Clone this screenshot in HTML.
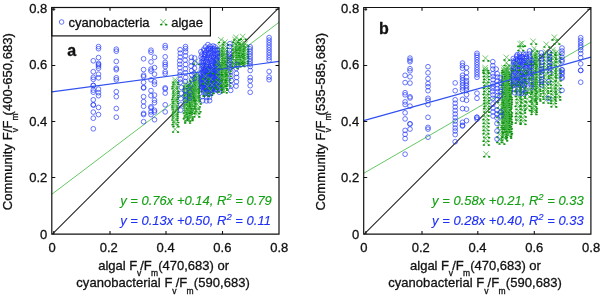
<!DOCTYPE html>
<html><head><meta charset="utf-8"><style>
html,body{margin:0;padding:0;background:#fff;width:602px;height:296px;overflow:hidden}
svg{display:block;will-change:transform}
text{stroke-width:0.3px}
.eq{}

</style></head><body>
<svg width="602" height="296" viewBox="0 0 602 296">
<defs><g id="xm"><path d="M-2.9 -2.9L3.1 2.5M2.5 -2.9L-2.3 2.5" stroke="#4cb84c" stroke-width="0.75" fill="none"/><ellipse cx="-1.9" cy="2.5" rx="1.3" ry="0.85" fill="#0b8f0b" stroke="none"/><ellipse cx="3.0" cy="2.6" rx="1.3" ry="0.85" fill="#0b8f0b" stroke="none"/></g></defs>
<rect width="602" height="296" fill="#fff"/>
<g style="font-family:'Liberation Sans',sans-serif" font-size="13" fill="#111" stroke="#111" stroke-width="0"><g class="t">
<line x1="52.3" y1="234.2" x2="279" y2="7.7" stroke="#222" stroke-width="1.05"/><line x1="51.8" y1="194.3" x2="279" y2="22.3" stroke="#66c866" stroke-width="1"/><g><use href="#xm" x="175.2" y="79.9"/><use href="#xm" x="175.3" y="81.9"/><use href="#xm" x="174.5" y="84.2"/><use href="#xm" x="174.4" y="86.2"/><use href="#xm" x="175.3" y="88.6"/><use href="#xm" x="175.2" y="90.6"/><use href="#xm" x="175.3" y="92.9"/><use href="#xm" x="174.9" y="94.8"/><use href="#xm" x="174.3" y="96.9"/><use href="#xm" x="174.7" y="99.1"/><use href="#xm" x="175.0" y="100.9"/><use href="#xm" x="174.3" y="103.4"/><use href="#xm" x="174.4" y="105.2"/><use href="#xm" x="174.6" y="107.2"/><use href="#xm" x="175.1" y="109.7"/><use href="#xm" x="174.5" y="111.6"/><use href="#xm" x="174.6" y="113.6"/><use href="#xm" x="174.7" y="115.5"/><use href="#xm" x="174.4" y="117.6"/><use href="#xm" x="175.3" y="119.9"/><use href="#xm" x="174.5" y="122.2"/><use href="#xm" x="175.4" y="124.1"/><use href="#xm" x="175.0" y="129.5"/><use href="#xm" x="185.9" y="83.8"/><use href="#xm" x="185.8" y="85.7"/><use href="#xm" x="185.8" y="87.4"/><use href="#xm" x="186.1" y="89.5"/><use href="#xm" x="187.1" y="91.4"/><use href="#xm" x="186.4" y="92.9"/><use href="#xm" x="186.5" y="94.7"/><use href="#xm" x="186.2" y="96.2"/><use href="#xm" x="186.1" y="98.8"/><use href="#xm" x="185.9" y="100.2"/><use href="#xm" x="186.7" y="102.3"/><use href="#xm" x="186.0" y="103.6"/><use href="#xm" x="186.1" y="105.5"/><use href="#xm" x="186.4" y="107.8"/><use href="#xm" x="187.1" y="109.5"/><use href="#xm" x="185.7" y="110.6"/><use href="#xm" x="186.8" y="113.1"/><use href="#xm" x="186.5" y="114.7"/><use href="#xm" x="185.7" y="116.3"/><use href="#xm" x="187.2" y="118.5"/><use href="#xm" x="187.1" y="120.4"/><use href="#xm" x="189.1" y="83.7"/><use href="#xm" x="188.9" y="86.0"/><use href="#xm" x="189.8" y="88.4"/><use href="#xm" x="189.9" y="90.1"/><use href="#xm" x="189.9" y="92.0"/><use href="#xm" x="189.6" y="93.6"/><use href="#xm" x="190.0" y="95.8"/><use href="#xm" x="190.2" y="98.1"/><use href="#xm" x="189.2" y="99.7"/><use href="#xm" x="189.1" y="102.1"/><use href="#xm" x="189.8" y="103.7"/><use href="#xm" x="188.8" y="106.0"/><use href="#xm" x="189.6" y="107.9"/><use href="#xm" x="189.1" y="110.1"/><use href="#xm" x="188.7" y="111.8"/><use href="#xm" x="189.4" y="114.4"/><use href="#xm" x="189.7" y="116.3"/><use href="#xm" x="189.5" y="117.8"/><use href="#xm" x="192.1" y="78.4"/><use href="#xm" x="192.8" y="80.0"/><use href="#xm" x="191.7" y="82.4"/><use href="#xm" x="192.8" y="84.5"/><use href="#xm" x="192.1" y="86.9"/><use href="#xm" x="193.2" y="88.8"/><use href="#xm" x="191.8" y="91.1"/><use href="#xm" x="192.4" y="93.5"/><use href="#xm" x="192.0" y="95.8"/><use href="#xm" x="192.9" y="97.8"/><use href="#xm" x="192.0" y="100.4"/><use href="#xm" x="192.2" y="102.5"/><use href="#xm" x="192.1" y="104.2"/><use href="#xm" x="192.9" y="106.4"/><use href="#xm" x="193.2" y="108.8"/><use href="#xm" x="192.0" y="110.8"/><use href="#xm" x="196.2" y="73.1"/><use href="#xm" x="196.7" y="74.2"/><use href="#xm" x="196.2" y="75.6"/><use href="#xm" x="196.8" y="77.0"/><use href="#xm" x="195.9" y="78.3"/><use href="#xm" x="196.2" y="80.2"/><use href="#xm" x="196.7" y="81.5"/><use href="#xm" x="196.8" y="83.1"/><use href="#xm" x="196.1" y="84.0"/><use href="#xm" x="196.7" y="85.7"/><use href="#xm" x="195.8" y="87.1"/><use href="#xm" x="196.2" y="88.3"/><use href="#xm" x="196.1" y="89.6"/><use href="#xm" x="195.8" y="91.1"/><use href="#xm" x="196.2" y="92.9"/><use href="#xm" x="195.9" y="94.3"/><use href="#xm" x="196.0" y="95.3"/><use href="#xm" x="196.6" y="97.0"/><use href="#xm" x="196.2" y="97.9"/><use href="#xm" x="197.0" y="98.9"/><use href="#xm" x="197.7" y="101.3"/><use href="#xm" x="196.8" y="104.3"/><use href="#xm" x="196.2" y="106.4"/><use href="#xm" x="197.5" y="109.2"/><use href="#xm" x="196.3" y="111.1"/><use href="#xm" x="196.3" y="114.3"/><use href="#xm" x="195.7" y="61.7"/><use href="#xm" x="205.7" y="64.5"/><use href="#xm" x="204.5" y="67.6"/><use href="#xm" x="206.4" y="73.6"/><use href="#xm" x="204.3" y="78.9"/><use href="#xm" x="204.4" y="82.6"/><use href="#xm" x="203.5" y="89.1"/><use href="#xm" x="206.2" y="93.7"/><use href="#xm" x="208.6" y="65.9"/><use href="#xm" x="209.9" y="73.1"/><use href="#xm" x="211.4" y="76.4"/><use href="#xm" x="209.3" y="81.5"/><use href="#xm" x="210.0" y="88.0"/><use href="#xm" x="209.0" y="92.6"/><use href="#xm" x="216.0" y="66.5"/><use href="#xm" x="215.3" y="70.2"/><use href="#xm" x="214.5" y="75.3"/><use href="#xm" x="215.8" y="79.4"/><use href="#xm" x="214.1" y="86.5"/><use href="#xm" x="214.2" y="89.4"/><use href="#xm" x="220.1" y="46.1"/><use href="#xm" x="220.4" y="48.9"/><use href="#xm" x="220.8" y="51.3"/><use href="#xm" x="220.3" y="52.8"/><use href="#xm" x="220.2" y="55.6"/><use href="#xm" x="220.7" y="57.9"/><use href="#xm" x="220.3" y="60.3"/><use href="#xm" x="220.6" y="63.0"/><use href="#xm" x="220.7" y="65.5"/><use href="#xm" x="220.6" y="67.2"/><use href="#xm" x="220.8" y="69.8"/><use href="#xm" x="220.6" y="72.3"/><use href="#xm" x="220.7" y="74.5"/><use href="#xm" x="220.3" y="76.9"/><use href="#xm" x="220.2" y="80.0"/><use href="#xm" x="220.6" y="81.8"/><use href="#xm" x="220.4" y="84.9"/><use href="#xm" x="220.5" y="86.5"/><use href="#xm" x="220.7" y="89.4"/><use href="#xm" x="224.4" y="45.6"/><use href="#xm" x="224.0" y="48.3"/><use href="#xm" x="224.3" y="50.4"/><use href="#xm" x="223.6" y="51.8"/><use href="#xm" x="223.7" y="53.7"/><use href="#xm" x="224.4" y="56.1"/><use href="#xm" x="224.3" y="57.9"/><use href="#xm" x="224.3" y="59.9"/><use href="#xm" x="223.8" y="62.3"/><use href="#xm" x="224.4" y="63.6"/><use href="#xm" x="224.1" y="66.1"/><use href="#xm" x="223.8" y="67.9"/><use href="#xm" x="223.7" y="69.7"/><use href="#xm" x="223.8" y="72.1"/><use href="#xm" x="224.1" y="73.7"/><use href="#xm" x="223.6" y="75.8"/><use href="#xm" x="224.1" y="77.7"/><use href="#xm" x="223.8" y="79.7"/><use href="#xm" x="224.2" y="82.0"/><use href="#xm" x="223.7" y="83.6"/><use href="#xm" x="223.9" y="86.1"/><use href="#xm" x="224.1" y="87.6"/><use href="#xm" x="223.7" y="90.2"/><use href="#xm" x="227.4" y="55.8"/><use href="#xm" x="227.3" y="59.5"/><use href="#xm" x="227.3" y="62.1"/><use href="#xm" x="227.4" y="64.9"/><use href="#xm" x="227.8" y="68.5"/><use href="#xm" x="227.4" y="70.7"/><use href="#xm" x="227.7" y="73.7"/><use href="#xm" x="227.1" y="77.4"/><use href="#xm" x="227.4" y="80.3"/><use href="#xm" x="227.4" y="83.4"/><use href="#xm" x="216.5" y="59.7"/><use href="#xm" x="216.1" y="63.1"/><use href="#xm" x="216.6" y="66.4"/><use href="#xm" x="216.2" y="69.1"/><use href="#xm" x="216.4" y="72.0"/><use href="#xm" x="216.2" y="74.8"/><use href="#xm" x="216.5" y="78.4"/><use href="#xm" x="216.2" y="81.0"/><use href="#xm" x="216.7" y="84.5"/><use href="#xm" x="234.3" y="43.6"/><use href="#xm" x="234.9" y="46.7"/><use href="#xm" x="234.5" y="48.0"/><use href="#xm" x="234.8" y="50.5"/><use href="#xm" x="234.8" y="52.9"/><use href="#xm" x="234.8" y="54.7"/><use href="#xm" x="234.7" y="56.9"/><use href="#xm" x="234.4" y="59.7"/><use href="#xm" x="234.8" y="61.3"/><use href="#xm" x="234.3" y="63.7"/><use href="#xm" x="234.5" y="65.9"/><use href="#xm" x="237.7" y="41.7"/><use href="#xm" x="238.2" y="44.6"/><use href="#xm" x="237.6" y="46.5"/><use href="#xm" x="238.2" y="48.1"/><use href="#xm" x="238.3" y="50.4"/><use href="#xm" x="238.1" y="53.1"/><use href="#xm" x="238.1" y="55.0"/><use href="#xm" x="237.9" y="57.5"/><use href="#xm" x="237.9" y="59.8"/><use href="#xm" x="238.0" y="61.7"/><use href="#xm" x="237.6" y="64.1"/><use href="#xm" x="241.5" y="41.7"/><use href="#xm" x="241.7" y="44.5"/><use href="#xm" x="241.5" y="46.1"/><use href="#xm" x="241.5" y="48.2"/><use href="#xm" x="241.2" y="50.7"/><use href="#xm" x="241.2" y="52.9"/><use href="#xm" x="241.5" y="54.7"/><use href="#xm" x="241.6" y="57.0"/><use href="#xm" x="241.7" y="59.9"/><use href="#xm" x="241.5" y="61.4"/><use href="#xm" x="241.5" y="63.9"/><use href="#xm" x="245.4" y="43.6"/><use href="#xm" x="245.3" y="46.9"/><use href="#xm" x="245.2" y="49.1"/><use href="#xm" x="244.8" y="51.7"/><use href="#xm" x="245.0" y="54.1"/><use href="#xm" x="245.3" y="55.7"/><use href="#xm" x="245.2" y="58.8"/><use href="#xm" x="244.7" y="60.7"/><use href="#xm" x="245.2" y="62.9"/><use href="#xm" x="221.0" y="40.0"/><use href="#xm" x="225.0" y="42.3"/><use href="#xm" x="235.2" y="39.8"/><use href="#xm" x="242.8" y="36.7"/><use href="#xm" x="236.0" y="37.5"/></g><g fill="none" stroke="#2238fa" stroke-width="0.68"><circle cx="93.3" cy="60.8" r="2.35"/><circle cx="93.3" cy="71.7" r="2.35"/><circle cx="93.3" cy="77.3" r="2.35"/><circle cx="93.3" cy="79.3" r="2.35"/><circle cx="93.3" cy="85.4" r="2.35"/><circle cx="93.3" cy="85.6" r="2.35"/><circle cx="93.3" cy="90.1" r="2.35"/><circle cx="93.3" cy="92.2" r="2.35"/><circle cx="93.3" cy="99.8" r="2.35"/><circle cx="93.3" cy="104.8" r="2.35"/><circle cx="93.3" cy="105.0" r="2.35"/><circle cx="93.3" cy="112.1" r="2.35"/><circle cx="93.3" cy="118.2" r="2.35"/><circle cx="93.3" cy="128.8" r="2.35"/><circle cx="98.5" cy="46.6" r="2.35"/><circle cx="98.5" cy="48.7" r="2.35"/><circle cx="98.5" cy="57.6" r="2.35"/><circle cx="98.5" cy="63.4" r="2.35"/><circle cx="98.5" cy="64.6" r="2.35"/><circle cx="98.5" cy="66.1" r="2.35"/><circle cx="98.5" cy="68.2" r="2.35"/><circle cx="98.5" cy="74.2" r="2.35"/><circle cx="98.5" cy="77.8" r="2.35"/><circle cx="98.5" cy="89.1" r="2.35"/><circle cx="98.5" cy="92.7" r="2.35"/><circle cx="98.5" cy="95.7" r="2.35"/><circle cx="98.5" cy="107.4" r="2.35"/><circle cx="98.5" cy="114.6" r="2.35"/><circle cx="116.3" cy="49.2" r="2.35"/><circle cx="116.3" cy="51.2" r="2.35"/><circle cx="116.3" cy="61.4" r="2.35"/><circle cx="116.3" cy="68.2" r="2.35"/><circle cx="116.3" cy="69.7" r="2.35"/><circle cx="116.3" cy="77.8" r="2.35"/><circle cx="116.3" cy="79.8" r="2.35"/><circle cx="116.3" cy="91.7" r="2.35"/><circle cx="116.3" cy="96.7" r="2.35"/><circle cx="116.3" cy="108.5" r="2.35"/><circle cx="116.3" cy="117.2" r="2.35"/><circle cx="143.6" cy="58.8" r="2.35"/><circle cx="143.6" cy="69.6" r="2.35"/><circle cx="143.6" cy="75.2" r="2.35"/><circle cx="143.6" cy="76.7" r="2.35"/><circle cx="143.6" cy="82.3" r="2.35"/><circle cx="143.6" cy="87.4" r="2.35"/><circle cx="143.6" cy="88.0" r="2.35"/><circle cx="143.6" cy="96.7" r="2.35"/><circle cx="143.6" cy="101.7" r="2.35"/><circle cx="143.6" cy="106.3" r="2.35"/><circle cx="143.6" cy="113.4" r="2.35"/><circle cx="143.6" cy="114.6" r="2.35"/><circle cx="143.6" cy="121.7" r="2.35"/><circle cx="151.0" cy="50.2" r="2.35"/><circle cx="151.0" cy="52.2" r="2.35"/><circle cx="151.0" cy="61.9" r="2.35"/><circle cx="151.0" cy="69.1" r="2.35"/><circle cx="151.0" cy="71.1" r="2.35"/><circle cx="151.0" cy="79.8" r="2.35"/><circle cx="151.0" cy="90.6" r="2.35"/><circle cx="151.0" cy="95.7" r="2.35"/><circle cx="151.0" cy="106.8" r="2.35"/><circle cx="151.0" cy="111.9" r="2.35"/><circle cx="151.0" cy="108.0" r="2.35"/><circle cx="151.0" cy="114.6" r="2.35"/><circle cx="154.5" cy="57.3" r="2.35"/><circle cx="154.5" cy="67.6" r="2.35"/><circle cx="154.5" cy="74.2" r="2.35"/><circle cx="154.5" cy="81.8" r="2.35"/><circle cx="154.5" cy="84.3" r="2.35"/><circle cx="154.5" cy="95.1" r="2.35"/><circle cx="154.5" cy="100.2" r="2.35"/><circle cx="154.5" cy="102.7" r="2.35"/><circle cx="154.5" cy="110.3" r="2.35"/><circle cx="154.5" cy="112.0" r="2.35"/><circle cx="154.5" cy="119.7" r="2.35"/><circle cx="165.2" cy="45.6" r="2.35"/><circle cx="165.2" cy="47.7" r="2.35"/><circle cx="165.2" cy="56.8" r="2.35"/><circle cx="165.2" cy="62.4" r="2.35"/><circle cx="165.2" cy="64.5" r="2.35"/><circle cx="165.2" cy="66.6" r="2.35"/><circle cx="165.2" cy="71.7" r="2.35"/><circle cx="165.2" cy="73.7" r="2.35"/><circle cx="165.2" cy="87.9" r="2.35"/><circle cx="165.2" cy="89.0" r="2.35"/><circle cx="165.2" cy="93.1" r="2.35"/><circle cx="165.2" cy="104.8" r="2.35"/><circle cx="165.2" cy="111.9" r="2.35"/><circle cx="180.1" cy="49.7" r="2.35"/><circle cx="180.3" cy="53.2" r="2.35"/><circle cx="180.2" cy="57.1" r="2.35"/><circle cx="179.8" cy="60.8" r="2.35"/><circle cx="179.8" cy="64.3" r="2.35"/><circle cx="179.9" cy="67.6" r="2.35"/><circle cx="180.1" cy="71.9" r="2.35"/><circle cx="179.9" cy="74.9" r="2.35"/><circle cx="180.3" cy="79.2" r="2.35"/><circle cx="180.3" cy="82.3" r="2.35"/><circle cx="181.4" cy="87.5" r="2.35"/><circle cx="181.3" cy="93.3" r="2.35"/><circle cx="180.7" cy="98.6" r="2.35"/><circle cx="180.8" cy="104.8" r="2.35"/><circle cx="180.7" cy="110.1" r="2.35"/><circle cx="185.5" cy="46.6" r="2.35"/><circle cx="185.5" cy="48.7" r="2.35"/><circle cx="185.6" cy="51.9" r="2.35"/><circle cx="185.5" cy="55.8" r="2.35"/><circle cx="185.1" cy="60.1" r="2.35"/><circle cx="185.6" cy="64.5" r="2.35"/><circle cx="185.4" cy="68.9" r="2.35"/><circle cx="185.5" cy="72.8" r="2.35"/><circle cx="185.7" cy="77.4" r="2.35"/><circle cx="185.3" cy="81.5" r="2.35"/><circle cx="185.0" cy="90.4" r="2.35"/><circle cx="185.2" cy="95.3" r="2.35"/><circle cx="185.4" cy="100.6" r="2.35"/><circle cx="191.4" cy="57.3" r="2.35"/><circle cx="191.2" cy="61.5" r="2.35"/><circle cx="191.1" cy="66.2" r="2.35"/><circle cx="191.7" cy="70.6" r="2.35"/><circle cx="191.8" cy="74.8" r="2.35"/><circle cx="191.7" cy="79.6" r="2.35"/><circle cx="194.6" cy="58.0" r="2.35"/><circle cx="194.8" cy="63.4" r="2.35"/><circle cx="194.5" cy="68.2" r="2.35"/><circle cx="194.1" cy="73.2" r="2.35"/><circle cx="194.6" cy="78.5" r="2.35"/><circle cx="190.3" cy="85.8" r="2.35"/><circle cx="189.9" cy="92.2" r="2.35"/><circle cx="189.6" cy="98.0" r="2.35"/><circle cx="200.9" cy="51.7" r="2.35"/><circle cx="201.9" cy="54.2" r="2.35"/><circle cx="201.1" cy="57.0" r="2.35"/><circle cx="202.1" cy="58.9" r="2.35"/><circle cx="201.4" cy="62.1" r="2.35"/><circle cx="202.1" cy="64.9" r="2.35"/><circle cx="202.1" cy="66.4" r="2.35"/><circle cx="201.4" cy="69.0" r="2.35"/><circle cx="202.1" cy="72.3" r="2.35"/><circle cx="200.9" cy="73.5" r="2.35"/><circle cx="201.1" cy="76.0" r="2.35"/><circle cx="201.5" cy="78.9" r="2.35"/><circle cx="201.1" cy="80.4" r="2.35"/><circle cx="201.4" cy="83.4" r="2.35"/><circle cx="201.6" cy="86.7" r="2.35"/><circle cx="203.8" cy="49.2" r="2.35"/><circle cx="204.1" cy="50.7" r="2.35"/><circle cx="204.4" cy="54.3" r="2.35"/><circle cx="204.4" cy="56.7" r="2.35"/><circle cx="203.6" cy="58.5" r="2.35"/><circle cx="203.2" cy="61.3" r="2.35"/><circle cx="203.1" cy="62.8" r="2.35"/><circle cx="203.3" cy="65.3" r="2.35"/><circle cx="203.5" cy="67.5" r="2.35"/><circle cx="203.0" cy="70.1" r="2.35"/><circle cx="203.2" cy="72.8" r="2.35"/><circle cx="203.0" cy="76.1" r="2.35"/><circle cx="204.0" cy="77.3" r="2.35"/><circle cx="203.4" cy="80.0" r="2.35"/><circle cx="203.6" cy="82.1" r="2.35"/><circle cx="204.4" cy="85.8" r="2.35"/><circle cx="203.7" cy="87.4" r="2.35"/><circle cx="203.1" cy="89.2" r="2.35"/><circle cx="203.5" cy="91.9" r="2.35"/><circle cx="205.6" cy="46.9" r="2.35"/><circle cx="206.8" cy="50.1" r="2.35"/><circle cx="205.5" cy="52.5" r="2.35"/><circle cx="205.3" cy="54.9" r="2.35"/><circle cx="206.9" cy="57.9" r="2.35"/><circle cx="206.4" cy="59.3" r="2.35"/><circle cx="205.9" cy="61.5" r="2.35"/><circle cx="206.5" cy="64.5" r="2.35"/><circle cx="206.5" cy="66.6" r="2.35"/><circle cx="205.7" cy="69.8" r="2.35"/><circle cx="206.9" cy="72.2" r="2.35"/><circle cx="206.6" cy="74.6" r="2.35"/><circle cx="206.5" cy="76.0" r="2.35"/><circle cx="206.1" cy="78.6" r="2.35"/><circle cx="205.3" cy="80.5" r="2.35"/><circle cx="205.7" cy="83.3" r="2.35"/><circle cx="206.4" cy="86.8" r="2.35"/><circle cx="206.0" cy="89.2" r="2.35"/><circle cx="206.9" cy="91.6" r="2.35"/><circle cx="205.9" cy="92.8" r="2.35"/><circle cx="207.9" cy="44.6" r="2.35"/><circle cx="208.6" cy="48.1" r="2.35"/><circle cx="208.9" cy="49.8" r="2.35"/><circle cx="208.6" cy="52.8" r="2.35"/><circle cx="207.7" cy="54.9" r="2.35"/><circle cx="209.1" cy="57.5" r="2.35"/><circle cx="208.8" cy="59.4" r="2.35"/><circle cx="207.9" cy="62.3" r="2.35"/><circle cx="208.1" cy="64.8" r="2.35"/><circle cx="209.2" cy="66.5" r="2.35"/><circle cx="208.2" cy="69.8" r="2.35"/><circle cx="208.8" cy="70.9" r="2.35"/><circle cx="207.8" cy="73.3" r="2.35"/><circle cx="209.0" cy="76.8" r="2.35"/><circle cx="207.8" cy="79.2" r="2.35"/><circle cx="209.2" cy="81.3" r="2.35"/><circle cx="208.2" cy="83.6" r="2.35"/><circle cx="207.8" cy="85.1" r="2.35"/><circle cx="209.2" cy="88.5" r="2.35"/><circle cx="208.4" cy="91.4" r="2.35"/><circle cx="208.3" cy="93.7" r="2.35"/><circle cx="210.2" cy="46.3" r="2.35"/><circle cx="210.4" cy="48.7" r="2.35"/><circle cx="210.8" cy="51.1" r="2.35"/><circle cx="210.6" cy="53.3" r="2.35"/><circle cx="211.4" cy="56.1" r="2.35"/><circle cx="210.6" cy="58.8" r="2.35"/><circle cx="211.3" cy="61.0" r="2.35"/><circle cx="211.4" cy="63.5" r="2.35"/><circle cx="210.8" cy="65.9" r="2.35"/><circle cx="209.9" cy="68.2" r="2.35"/><circle cx="210.2" cy="69.9" r="2.35"/><circle cx="211.2" cy="72.6" r="2.35"/><circle cx="210.7" cy="75.9" r="2.35"/><circle cx="210.8" cy="77.6" r="2.35"/><circle cx="210.7" cy="80.4" r="2.35"/><circle cx="211.2" cy="82.1" r="2.35"/><circle cx="210.8" cy="84.7" r="2.35"/><circle cx="210.3" cy="87.9" r="2.35"/><circle cx="210.7" cy="90.0" r="2.35"/><circle cx="211.1" cy="93.0" r="2.35"/><circle cx="213.2" cy="46.0" r="2.35"/><circle cx="213.0" cy="48.7" r="2.35"/><circle cx="212.9" cy="50.8" r="2.35"/><circle cx="213.0" cy="53.9" r="2.35"/><circle cx="213.3" cy="56.2" r="2.35"/><circle cx="213.7" cy="57.6" r="2.35"/><circle cx="213.1" cy="61.1" r="2.35"/><circle cx="213.5" cy="62.2" r="2.35"/><circle cx="212.4" cy="65.1" r="2.35"/><circle cx="212.3" cy="67.2" r="2.35"/><circle cx="212.3" cy="70.3" r="2.35"/><circle cx="213.5" cy="73.0" r="2.35"/><circle cx="212.4" cy="75.1" r="2.35"/><circle cx="213.3" cy="76.6" r="2.35"/><circle cx="213.6" cy="80.3" r="2.35"/><circle cx="212.6" cy="82.7" r="2.35"/><circle cx="212.8" cy="84.4" r="2.35"/><circle cx="213.8" cy="87.3" r="2.35"/><circle cx="212.5" cy="89.1" r="2.35"/><circle cx="213.0" cy="91.3" r="2.35"/><circle cx="215.0" cy="46.9" r="2.35"/><circle cx="214.5" cy="49.0" r="2.35"/><circle cx="215.2" cy="50.5" r="2.35"/><circle cx="215.0" cy="53.9" r="2.35"/><circle cx="215.3" cy="55.4" r="2.35"/><circle cx="216.1" cy="59.0" r="2.35"/><circle cx="216.1" cy="60.3" r="2.35"/><circle cx="214.9" cy="62.6" r="2.35"/><circle cx="215.7" cy="65.3" r="2.35"/><circle cx="214.7" cy="68.0" r="2.35"/><circle cx="216.0" cy="71.0" r="2.35"/><circle cx="214.9" cy="72.3" r="2.35"/><circle cx="216.0" cy="75.4" r="2.35"/><circle cx="215.6" cy="77.1" r="2.35"/><circle cx="214.6" cy="80.4" r="2.35"/><circle cx="215.2" cy="81.8" r="2.35"/><circle cx="216.0" cy="85.1" r="2.35"/><circle cx="215.8" cy="86.6" r="2.35"/><circle cx="215.9" cy="89.0" r="2.35"/><circle cx="217.5" cy="49.7" r="2.35"/><circle cx="217.7" cy="53.0" r="2.35"/><circle cx="217.2" cy="54.2" r="2.35"/><circle cx="217.6" cy="56.7" r="2.35"/><circle cx="217.0" cy="59.0" r="2.35"/><circle cx="216.9" cy="61.5" r="2.35"/><circle cx="217.3" cy="64.0" r="2.35"/><circle cx="218.0" cy="66.4" r="2.35"/><circle cx="217.6" cy="68.6" r="2.35"/><circle cx="217.4" cy="70.8" r="2.35"/><circle cx="217.2" cy="73.2" r="2.35"/><circle cx="218.0" cy="76.4" r="2.35"/><circle cx="217.1" cy="78.7" r="2.35"/><circle cx="218.3" cy="80.5" r="2.35"/><circle cx="218.1" cy="83.4" r="2.35"/><circle cx="217.6" cy="86.5" r="2.35"/><circle cx="203.0" cy="71.2" r="2.35"/><circle cx="203.8" cy="73.1" r="2.35"/><circle cx="203.5" cy="76.1" r="2.35"/><circle cx="203.2" cy="78.0" r="2.35"/><circle cx="202.8" cy="79.8" r="2.35"/><circle cx="202.4" cy="82.3" r="2.35"/><circle cx="203.4" cy="85.0" r="2.35"/><circle cx="202.5" cy="87.1" r="2.35"/><circle cx="203.5" cy="90.7" r="2.35"/><circle cx="205.1" cy="71.2" r="2.35"/><circle cx="205.1" cy="73.9" r="2.35"/><circle cx="204.9" cy="76.3" r="2.35"/><circle cx="205.0" cy="79.5" r="2.35"/><circle cx="206.2" cy="81.3" r="2.35"/><circle cx="205.0" cy="84.4" r="2.35"/><circle cx="205.1" cy="85.8" r="2.35"/><circle cx="204.6" cy="88.2" r="2.35"/><circle cx="205.4" cy="90.8" r="2.35"/><circle cx="207.8" cy="69.7" r="2.35"/><circle cx="207.4" cy="72.2" r="2.35"/><circle cx="207.6" cy="74.5" r="2.35"/><circle cx="207.0" cy="77.4" r="2.35"/><circle cx="207.4" cy="80.2" r="2.35"/><circle cx="207.8" cy="82.9" r="2.35"/><circle cx="208.1" cy="85.2" r="2.35"/><circle cx="208.4" cy="87.1" r="2.35"/><circle cx="207.5" cy="90.5" r="2.35"/><circle cx="210.6" cy="70.6" r="2.35"/><circle cx="209.5" cy="73.3" r="2.35"/><circle cx="210.8" cy="75.4" r="2.35"/><circle cx="210.6" cy="78.1" r="2.35"/><circle cx="209.6" cy="80.0" r="2.35"/><circle cx="210.2" cy="82.9" r="2.35"/><circle cx="210.7" cy="85.3" r="2.35"/><circle cx="210.3" cy="87.8" r="2.35"/><circle cx="210.5" cy="89.9" r="2.35"/><circle cx="211.8" cy="70.0" r="2.35"/><circle cx="212.4" cy="72.3" r="2.35"/><circle cx="213.1" cy="75.4" r="2.35"/><circle cx="212.8" cy="78.0" r="2.35"/><circle cx="212.9" cy="80.1" r="2.35"/><circle cx="211.8" cy="83.0" r="2.35"/><circle cx="213.0" cy="85.0" r="2.35"/><circle cx="212.7" cy="87.6" r="2.35"/><circle cx="211.9" cy="90.1" r="2.35"/><circle cx="214.3" cy="70.2" r="2.35"/><circle cx="215.4" cy="72.5" r="2.35"/><circle cx="215.4" cy="76.2" r="2.35"/><circle cx="215.0" cy="77.6" r="2.35"/><circle cx="215.0" cy="80.5" r="2.35"/><circle cx="215.4" cy="82.8" r="2.35"/><circle cx="215.2" cy="84.3" r="2.35"/><circle cx="214.4" cy="87.0" r="2.35"/><circle cx="215.4" cy="89.5" r="2.35"/><circle cx="202.4" cy="96.5" r="2.35"/><circle cx="202.7" cy="100.7" r="2.35"/><circle cx="206.7" cy="97.2" r="2.35"/><circle cx="206.5" cy="100.9" r="2.35"/><circle cx="209.5" cy="97.1" r="2.35"/><circle cx="209.6" cy="100.7" r="2.35"/><circle cx="219.8" cy="81.5" r="2.35"/><circle cx="219.5" cy="85.8" r="2.35"/><circle cx="219.9" cy="88.9" r="2.35"/><circle cx="219.3" cy="92.2" r="2.35"/><circle cx="229.9" cy="43.7" r="2.35"/><circle cx="229.6" cy="46.6" r="2.35"/><circle cx="229.5" cy="50.5" r="2.35"/><circle cx="229.2" cy="53.3" r="2.35"/><circle cx="229.5" cy="56.4" r="2.35"/><circle cx="229.7" cy="58.7" r="2.35"/><circle cx="229.8" cy="62.0" r="2.35"/><circle cx="229.1" cy="64.5" r="2.35"/><circle cx="229.5" cy="68.0" r="2.35"/><circle cx="230.8" cy="71.6" r="2.35"/><circle cx="230.9" cy="76.3" r="2.35"/><circle cx="231.3" cy="80.5" r="2.35"/><circle cx="231.2" cy="85.8" r="2.35"/><circle cx="230.7" cy="90.4" r="2.35"/><circle cx="236.7" cy="64.4" r="2.35"/><circle cx="236.3" cy="68.4" r="2.35"/><circle cx="236.4" cy="73.5" r="2.35"/><circle cx="236.6" cy="77.4" r="2.35"/><circle cx="236.4" cy="81.8" r="2.35"/><circle cx="236.1" cy="86.1" r="2.35"/><circle cx="250.2" cy="46.8" r="2.35"/><circle cx="250.2" cy="49.0" r="2.35"/><circle cx="250.2" cy="51.5" r="2.35"/><circle cx="250.2" cy="54.0" r="2.35"/><circle cx="250.2" cy="56.5" r="2.35"/><circle cx="250.2" cy="59.0" r="2.35"/><circle cx="250.2" cy="61.5" r="2.35"/><circle cx="250.2" cy="64.0" r="2.35"/><circle cx="250.2" cy="66.5" r="2.35"/><circle cx="250.2" cy="70.5" r="2.35"/><circle cx="250.2" cy="77.6" r="2.35"/><circle cx="250.2" cy="80.7" r="2.35"/><circle cx="250.2" cy="85.7" r="2.35"/><circle cx="250.2" cy="92.3" r="2.35"/><circle cx="269.1" cy="37.6" r="2.35"/><circle cx="269.1" cy="40.1" r="2.35"/><circle cx="269.1" cy="42.6" r="2.35"/><circle cx="269.1" cy="45.1" r="2.35"/><circle cx="269.1" cy="47.6" r="2.35"/><circle cx="269.1" cy="50.1" r="2.35"/><circle cx="269.1" cy="52.6" r="2.35"/><circle cx="269.1" cy="55.1" r="2.35"/><circle cx="269.1" cy="57.6" r="2.35"/><circle cx="269.1" cy="60.1" r="2.35"/><circle cx="269.1" cy="71.5" r="2.35"/><circle cx="269.1" cy="77.1" r="2.35"/><circle cx="269.1" cy="79.7" r="2.35"/></g><g><use href="#xm" x="205.3" y="76.3"/><use href="#xm" x="204.9" y="81.4"/><use href="#xm" x="207.3" y="86.5"/><use href="#xm" x="205.3" y="93.4"/><use href="#xm" x="210.1" y="71.0"/><use href="#xm" x="210.5" y="79.2"/><use href="#xm" x="212.0" y="85.1"/><use href="#xm" x="210.5" y="90.8"/><use href="#xm" x="218.2" y="62.0"/><use href="#xm" x="218.6" y="66.9"/><use href="#xm" x="218.8" y="72.1"/><use href="#xm" x="218.6" y="77.4"/><use href="#xm" x="218.2" y="82.5"/><use href="#xm" x="218.6" y="86.9"/><use href="#xm" x="223.2" y="65.8"/><use href="#xm" x="223.4" y="72.1"/><use href="#xm" x="222.9" y="78.3"/><use href="#xm" x="223.0" y="83.7"/></g><line x1="51.8" y1="91.9" x2="279" y2="61.4" stroke="#3050f0" stroke-width="1.2"/><text x="52.0" y="251.8" text-anchor="middle">0</text><text x="108.8" y="251.8" text-anchor="middle">0.2</text><text x="165.6" y="251.8" text-anchor="middle">0.4</text><text x="222.4" y="251.8" text-anchor="middle">0.6</text><text x="279.2" y="251.8" text-anchor="middle">0.8</text><text x="47.3" y="239.0" text-anchor="end">0</text><text x="47.3" y="181.9" text-anchor="end">0.2</text><text x="47.3" y="125.7" text-anchor="end">0.4</text><text x="47.3" y="69.3" text-anchor="end">0.6</text><text x="47.3" y="12.6" text-anchor="end">0.8</text><text x="67.2" y="55.8" font-weight="bold" font-size="16">a</text><text x="120.2" y="205.1" font-style="italic" font-size="13" fill="#13a013" stroke="#13a013" style="stroke-width:0.12px">y = 0.76x +0.14, R<tspan font-size="9.5" dy="-5.5">2</tspan><tspan dy="5.5"> = 0.79</tspan></text><text x="120.2" y="225.3" font-style="italic" font-size="13" fill="#1f2ff5" stroke="#1f2ff5" style="stroke-width:0.12px">y = 0.13x +0.50, R<tspan font-size="9.5" dy="-5.5">2</tspan><tspan dy="5.5"> = 0.11</tspan></text><text x="98.2" y="269.8" textLength="130.8" lengthAdjust="spacing">algal F<tspan font-size="8.5" dy="6.3" dx="-0.2">v</tspan><tspan dy="-6.3" dx="-0.9">/F</tspan><tspan font-size="8.5" dy="6.3" dx="-0.8">m</tspan><tspan dy="-6.3" dx="0.2">(470,683) or</tspan></text><text x="76.3" y="287.3" textLength="173.6" lengthAdjust="spacing">cyanobacterial F<tspan font-size="8.5" dy="6.3" dx="-0.2">v</tspan><tspan dy="-6.3" dx="-0.9">/F</tspan><tspan font-size="8.5" dy="6.3" dx="-0.8">m</tspan><tspan dy="-6.3" dx="0.2">(590,683)</tspan></text><text transform="translate(12.2,210.3) rotate(-90)" textLength="177.2" lengthAdjust="spacing">Community F<tspan font-size="8.5" dy="5.5" dx="0.2">v</tspan><tspan dy="-5.5" dx="-4.3">/F</tspan><tspan font-size="8.5" dy="5.5">m</tspan><tspan dy="-5.5" dx="-2.2">(400-650,683)</tspan></text><line x1="364.2" y1="234.2" x2="590.9" y2="7.7" stroke="#222" stroke-width="1.05"/><line x1="363.7" y1="173.3" x2="590.9" y2="42.3" stroke="#66c866" stroke-width="1"/><g><use href="#xm" x="485.4" y="58.3"/><use href="#xm" x="485.4" y="69.8"/><use href="#xm" x="506.4" y="57.6"/><use href="#xm" x="506.4" y="63.0"/><use href="#xm" x="520.3" y="44.0"/><use href="#xm" x="520.3" y="48.1"/><use href="#xm" x="522.0" y="43.5"/><use href="#xm" x="533.2" y="41.5"/><use href="#xm" x="534.2" y="48.6"/><use href="#xm" x="546.3" y="44.5"/><use href="#xm" x="554.4" y="37.4"/><use href="#xm" x="556.4" y="41.5"/><use href="#xm" x="485.3" y="67.9"/><use href="#xm" x="485.7" y="70.7"/><use href="#xm" x="485.7" y="74.0"/><use href="#xm" x="486.0" y="76.9"/><use href="#xm" x="485.5" y="79.8"/><use href="#xm" x="486.1" y="83.3"/><use href="#xm" x="485.8" y="85.8"/><use href="#xm" x="486.2" y="88.9"/><use href="#xm" x="485.5" y="91.8"/><use href="#xm" x="486.1" y="95.2"/><use href="#xm" x="486.0" y="98.0"/><use href="#xm" x="485.9" y="100.8"/><use href="#xm" x="486.4" y="103.9"/><use href="#xm" x="486.0" y="106.2"/><use href="#xm" x="486.2" y="109.6"/><use href="#xm" x="485.6" y="113.3"/><use href="#xm" x="485.4" y="117.2"/><use href="#xm" x="485.6" y="120.8"/><use href="#xm" x="485.5" y="124.2"/><use href="#xm" x="485.5" y="127.9"/><use href="#xm" x="485.4" y="131.3"/><use href="#xm" x="486.1" y="135.1"/><use href="#xm" x="485.5" y="138.7"/><use href="#xm" x="485.8" y="142.5"/><use href="#xm" x="486.2" y="154.2"/><use href="#xm" x="504.2" y="68.1"/><use href="#xm" x="503.8" y="70.2"/><use href="#xm" x="504.4" y="71.5"/><use href="#xm" x="504.4" y="73.9"/><use href="#xm" x="504.3" y="75.4"/><use href="#xm" x="504.4" y="77.6"/><use href="#xm" x="503.4" y="79.1"/><use href="#xm" x="504.5" y="81.4"/><use href="#xm" x="503.7" y="83.0"/><use href="#xm" x="503.6" y="84.9"/><use href="#xm" x="504.3" y="86.9"/><use href="#xm" x="503.6" y="89.1"/><use href="#xm" x="504.4" y="90.6"/><use href="#xm" x="504.5" y="92.8"/><use href="#xm" x="504.3" y="94.7"/><use href="#xm" x="504.5" y="96.7"/><use href="#xm" x="504.4" y="98.2"/><use href="#xm" x="504.2" y="100.3"/><use href="#xm" x="504.3" y="102.2"/><use href="#xm" x="504.5" y="104.1"/><use href="#xm" x="503.7" y="105.8"/><use href="#xm" x="503.6" y="107.9"/><use href="#xm" x="503.5" y="109.8"/><use href="#xm" x="503.6" y="111.7"/><use href="#xm" x="504.0" y="113.6"/><use href="#xm" x="504.4" y="115.2"/><use href="#xm" x="504.4" y="117.4"/><use href="#xm" x="504.1" y="119.4"/><use href="#xm" x="504.4" y="121.1"/><use href="#xm" x="503.9" y="123.4"/><use href="#xm" x="503.5" y="125.1"/><use href="#xm" x="504.2" y="126.6"/><use href="#xm" x="504.1" y="128.9"/><use href="#xm" x="504.5" y="130.6"/><use href="#xm" x="504.6" y="132.6"/><use href="#xm" x="504.0" y="134.7"/><use href="#xm" x="503.4" y="136.5"/><use href="#xm" x="504.2" y="138.2"/><use href="#xm" x="508.9" y="65.9"/><use href="#xm" x="508.5" y="67.7"/><use href="#xm" x="508.8" y="69.2"/><use href="#xm" x="508.4" y="71.1"/><use href="#xm" x="508.6" y="73.0"/><use href="#xm" x="508.3" y="74.7"/><use href="#xm" x="508.4" y="76.2"/><use href="#xm" x="508.2" y="77.9"/><use href="#xm" x="509.1" y="79.7"/><use href="#xm" x="508.9" y="81.2"/><use href="#xm" x="508.3" y="82.9"/><use href="#xm" x="508.6" y="84.8"/><use href="#xm" x="508.8" y="86.1"/><use href="#xm" x="508.8" y="88.3"/><use href="#xm" x="508.6" y="89.5"/><use href="#xm" x="508.3" y="91.2"/><use href="#xm" x="508.1" y="93.5"/><use href="#xm" x="508.6" y="95.0"/><use href="#xm" x="508.8" y="96.8"/><use href="#xm" x="508.6" y="98.4"/><use href="#xm" x="508.7" y="100.1"/><use href="#xm" x="508.6" y="101.8"/><use href="#xm" x="508.2" y="103.5"/><use href="#xm" x="508.4" y="105.3"/><use href="#xm" x="508.0" y="106.6"/><use href="#xm" x="507.9" y="108.7"/><use href="#xm" x="509.0" y="110.3"/><use href="#xm" x="508.3" y="112.1"/><use href="#xm" x="508.8" y="113.6"/><use href="#xm" x="508.2" y="115.2"/><use href="#xm" x="508.4" y="116.9"/><use href="#xm" x="508.4" y="118.8"/><use href="#xm" x="509.0" y="120.1"/><use href="#xm" x="508.6" y="121.8"/><use href="#xm" x="508.0" y="124.0"/><use href="#xm" x="508.6" y="125.8"/><use href="#xm" x="508.4" y="126.9"/><use href="#xm" x="508.4" y="129.0"/><use href="#xm" x="509.0" y="130.9"/><use href="#xm" x="508.5" y="132.2"/><use href="#xm" x="508.0" y="134.1"/><use href="#xm" x="508.2" y="135.5"/><use href="#xm" x="505.6" y="69.7"/><use href="#xm" x="506.4" y="72.0"/><use href="#xm" x="506.8" y="74.2"/><use href="#xm" x="506.6" y="76.4"/><use href="#xm" x="505.6" y="78.9"/><use href="#xm" x="505.9" y="81.1"/><use href="#xm" x="505.8" y="82.9"/><use href="#xm" x="506.5" y="85.5"/><use href="#xm" x="506.6" y="87.7"/><use href="#xm" x="505.7" y="89.9"/><use href="#xm" x="506.5" y="92.0"/><use href="#xm" x="506.7" y="94.1"/><use href="#xm" x="506.8" y="96.5"/><use href="#xm" x="505.6" y="98.3"/><use href="#xm" x="506.4" y="101.0"/><use href="#xm" x="505.7" y="102.9"/><use href="#xm" x="506.5" y="105.0"/><use href="#xm" x="506.6" y="107.4"/><use href="#xm" x="505.7" y="109.5"/><use href="#xm" x="506.3" y="111.8"/><use href="#xm" x="506.4" y="113.8"/><use href="#xm" x="506.6" y="116.1"/><use href="#xm" x="506.4" y="118.5"/><use href="#xm" x="506.1" y="120.5"/><use href="#xm" x="506.5" y="123.1"/><use href="#xm" x="506.5" y="125.0"/><use href="#xm" x="506.0" y="126.9"/><use href="#xm" x="506.8" y="129.5"/><use href="#xm" x="499.9" y="99.9"/><use href="#xm" x="499.6" y="105.4"/><use href="#xm" x="499.9" y="110.1"/><use href="#xm" x="499.3" y="114.9"/><use href="#xm" x="500.0" y="119.9"/><use href="#xm" x="499.7" y="125.1"/><use href="#xm" x="500.0" y="130.2"/><use href="#xm" x="499.2" y="134.6"/><use href="#xm" x="499.2" y="139.9"/><use href="#xm" x="518.1" y="80.3"/><use href="#xm" x="518.5" y="83.0"/><use href="#xm" x="518.4" y="87.0"/><use href="#xm" x="518.4" y="90.3"/><use href="#xm" x="517.7" y="93.9"/><use href="#xm" x="518.4" y="97.1"/><use href="#xm" x="518.5" y="100.3"/><use href="#xm" x="517.5" y="103.8"/><use href="#xm" x="518.4" y="107.0"/><use href="#xm" x="518.3" y="110.9"/><use href="#xm" x="517.7" y="114.1"/><use href="#xm" x="518.2" y="117.4"/><use href="#xm" x="517.6" y="120.6"/><use href="#xm" x="522.8" y="84.2"/><use href="#xm" x="522.5" y="87.5"/><use href="#xm" x="522.9" y="91.8"/><use href="#xm" x="522.2" y="95.5"/><use href="#xm" x="523.0" y="99.5"/><use href="#xm" x="522.5" y="103.0"/><use href="#xm" x="522.6" y="106.6"/><use href="#xm" x="522.1" y="110.3"/><use href="#xm" x="522.7" y="114.3"/><use href="#xm" x="522.6" y="118.1"/><use href="#xm" x="522.5" y="121.7"/><use href="#xm" x="526.5" y="90.4"/><use href="#xm" x="526.8" y="94.2"/><use href="#xm" x="527.2" y="99.2"/><use href="#xm" x="526.6" y="103.6"/><use href="#xm" x="526.8" y="108.0"/><use href="#xm" x="533.1" y="51.5"/><use href="#xm" x="533.9" y="54.4"/><use href="#xm" x="533.5" y="56.1"/><use href="#xm" x="533.3" y="58.3"/><use href="#xm" x="533.4" y="60.4"/><use href="#xm" x="533.7" y="62.3"/><use href="#xm" x="533.9" y="63.8"/><use href="#xm" x="533.1" y="65.7"/><use href="#xm" x="533.2" y="67.6"/><use href="#xm" x="533.1" y="70.1"/><use href="#xm" x="533.8" y="72.0"/><use href="#xm" x="533.9" y="74.4"/><use href="#xm" x="533.2" y="76.1"/><use href="#xm" x="533.4" y="77.6"/><use href="#xm" x="533.9" y="79.8"/><use href="#xm" x="533.6" y="82.1"/><use href="#xm" x="533.9" y="84.2"/><use href="#xm" x="533.4" y="85.9"/><use href="#xm" x="533.2" y="88.5"/><use href="#xm" x="533.9" y="89.7"/><use href="#xm" x="533.1" y="91.8"/><use href="#xm" x="533.4" y="94.4"/><use href="#xm" x="533.8" y="96.3"/><use href="#xm" x="533.1" y="98.3"/><use href="#xm" x="533.7" y="100.1"/><use href="#xm" x="533.9" y="101.6"/><use href="#xm" x="533.2" y="104.3"/><use href="#xm" x="533.9" y="106.2"/><use href="#xm" x="533.3" y="108.1"/><use href="#xm" x="533.7" y="109.6"/><use href="#xm" x="533.4" y="111.8"/><use href="#xm" x="537.2" y="53.0"/><use href="#xm" x="537.2" y="55.1"/><use href="#xm" x="537.2" y="58.0"/><use href="#xm" x="537.1" y="60.4"/><use href="#xm" x="537.3" y="62.1"/><use href="#xm" x="537.8" y="64.7"/><use href="#xm" x="537.8" y="67.8"/><use href="#xm" x="537.8" y="69.4"/><use href="#xm" x="537.5" y="71.8"/><use href="#xm" x="537.8" y="74.9"/><use href="#xm" x="537.6" y="77.0"/><use href="#xm" x="537.4" y="79.7"/><use href="#xm" x="537.5" y="81.9"/><use href="#xm" x="537.2" y="83.9"/><use href="#xm" x="537.1" y="86.8"/><use href="#xm" x="537.5" y="88.6"/><use href="#xm" x="537.8" y="91.2"/><use href="#xm" x="537.4" y="93.5"/><use href="#xm" x="537.3" y="96.5"/><use href="#xm" x="537.4" y="98.3"/><use href="#xm" x="545.5" y="51.8"/><use href="#xm" x="545.8" y="54.6"/><use href="#xm" x="545.9" y="57.6"/><use href="#xm" x="545.8" y="61.2"/><use href="#xm" x="545.3" y="64.0"/><use href="#xm" x="545.3" y="66.8"/><use href="#xm" x="545.3" y="69.9"/><use href="#xm" x="545.9" y="73.5"/><use href="#xm" x="545.8" y="75.6"/><use href="#xm" x="545.3" y="79.4"/><use href="#xm" x="545.1" y="82.2"/><use href="#xm" x="545.3" y="85.5"/><use href="#xm" x="545.1" y="88.3"/><use href="#xm" x="545.4" y="90.6"/><use href="#xm" x="545.1" y="94.3"/><use href="#xm" x="545.5" y="96.7"/><use href="#xm" x="545.4" y="100.4"/><use href="#xm" x="552.8" y="50.1"/><use href="#xm" x="552.7" y="52.9"/><use href="#xm" x="553.2" y="56.6"/><use href="#xm" x="552.8" y="59.2"/><use href="#xm" x="552.7" y="62.9"/><use href="#xm" x="553.0" y="65.8"/><use href="#xm" x="552.8" y="69.3"/><use href="#xm" x="553.2" y="72.7"/><use href="#xm" x="553.1" y="75.3"/><use href="#xm" x="552.7" y="79.0"/><use href="#xm" x="552.9" y="82.2"/><use href="#xm" x="552.6" y="85.5"/><use href="#xm" x="552.9" y="88.7"/><use href="#xm" x="553.3" y="91.6"/><use href="#xm" x="552.6" y="95.2"/><use href="#xm" x="553.0" y="98.4"/><use href="#xm" x="552.8" y="100.9"/><use href="#xm" x="553.3" y="104.3"/><use href="#xm" x="557.2" y="51.9"/><use href="#xm" x="557.6" y="55.3"/><use href="#xm" x="557.5" y="59.5"/><use href="#xm" x="557.5" y="63.0"/><use href="#xm" x="557.7" y="67.5"/><use href="#xm" x="557.8" y="70.8"/><use href="#xm" x="557.7" y="74.7"/><use href="#xm" x="557.7" y="78.2"/><use href="#xm" x="557.8" y="82.9"/><use href="#xm" x="557.5" y="86.2"/><use href="#xm" x="557.5" y="90.0"/><use href="#xm" x="557.1" y="94.3"/><use href="#xm" x="557.3" y="97.3"/><use href="#xm" x="501.4" y="141.5"/></g><g fill="none" stroke="#2238fa" stroke-width="0.68"><circle cx="405.1" cy="75.3" r="2.35"/><circle cx="405.1" cy="82.6" r="2.35"/><circle cx="405.1" cy="92.7" r="2.35"/><circle cx="405.1" cy="94.8" r="2.35"/><circle cx="405.1" cy="101.9" r="2.35"/><circle cx="405.1" cy="104.5" r="2.35"/><circle cx="405.1" cy="112.8" r="2.35"/><circle cx="405.1" cy="118.9" r="2.35"/><circle cx="405.1" cy="130.4" r="2.35"/><circle cx="405.1" cy="134.3" r="2.35"/><circle cx="405.1" cy="138.6" r="2.35"/><circle cx="405.1" cy="154.2" r="2.35"/><circle cx="410.0" cy="58.1" r="2.35"/><circle cx="410.0" cy="60.1" r="2.35"/><circle cx="410.0" cy="61.7" r="2.35"/><circle cx="410.0" cy="68.7" r="2.35"/><circle cx="410.0" cy="70.8" r="2.35"/><circle cx="410.0" cy="76.8" r="2.35"/><circle cx="410.0" cy="83.1" r="2.35"/><circle cx="410.0" cy="96.8" r="2.35"/><circle cx="410.0" cy="98.0" r="2.35"/><circle cx="410.0" cy="106.1" r="2.35"/><circle cx="410.0" cy="123.8" r="2.35"/><circle cx="410.0" cy="124.0" r="2.35"/><circle cx="410.0" cy="129.1" r="2.35"/><circle cx="428.0" cy="66.7" r="2.35"/><circle cx="428.0" cy="72.8" r="2.35"/><circle cx="428.0" cy="78.7" r="2.35"/><circle cx="428.0" cy="83.6" r="2.35"/><circle cx="428.0" cy="86.7" r="2.35"/><circle cx="428.0" cy="90.7" r="2.35"/><circle cx="428.0" cy="98.3" r="2.35"/><circle cx="428.0" cy="100.3" r="2.35"/><circle cx="428.0" cy="104.6" r="2.35"/><circle cx="428.0" cy="117.3" r="2.35"/><circle cx="428.0" cy="127.4" r="2.35"/><circle cx="428.0" cy="129.1" r="2.35"/><circle cx="428.0" cy="137.2" r="2.35"/><circle cx="455.2" cy="82.9" r="2.35"/><circle cx="455.2" cy="90.7" r="2.35"/><circle cx="455.2" cy="99.8" r="2.35"/><circle cx="455.2" cy="103.3" r="2.35"/><circle cx="455.2" cy="107.0" r="2.35"/><circle cx="455.2" cy="110.5" r="2.35"/><circle cx="455.2" cy="114.0" r="2.35"/><circle cx="455.2" cy="117.5" r="2.35"/><circle cx="455.2" cy="121.0" r="2.35"/><circle cx="455.2" cy="124.5" r="2.35"/><circle cx="455.2" cy="128.0" r="2.35"/><circle cx="455.2" cy="131.0" r="2.35"/><circle cx="455.2" cy="134.6" r="2.35"/><circle cx="455.2" cy="141.7" r="2.35"/><circle cx="462.5" cy="63.1" r="2.35"/><circle cx="462.5" cy="65.6" r="2.35"/><circle cx="462.5" cy="68.2" r="2.35"/><circle cx="462.5" cy="75.3" r="2.35"/><circle cx="462.5" cy="77.8" r="2.35"/><circle cx="462.5" cy="80.3" r="2.35"/><circle cx="462.5" cy="82.8" r="2.35"/><circle cx="462.5" cy="85.3" r="2.35"/><circle cx="462.5" cy="87.8" r="2.35"/><circle cx="462.5" cy="90.3" r="2.35"/><circle cx="462.5" cy="99.3" r="2.35"/><circle cx="462.5" cy="108.6" r="2.35"/><circle cx="462.5" cy="122.3" r="2.35"/><circle cx="462.5" cy="125.3" r="2.35"/><circle cx="462.5" cy="126.0" r="2.35"/><circle cx="466.5" cy="67.7" r="2.35"/><circle cx="466.5" cy="72.7" r="2.35"/><circle cx="466.5" cy="77.3" r="2.35"/><circle cx="466.5" cy="80.8" r="2.35"/><circle cx="466.5" cy="83.0" r="2.35"/><circle cx="466.5" cy="85.5" r="2.35"/><circle cx="466.5" cy="88.0" r="2.35"/><circle cx="466.5" cy="90.5" r="2.35"/><circle cx="466.5" cy="94.7" r="2.35"/><circle cx="466.5" cy="100.3" r="2.35"/><circle cx="466.5" cy="109.1" r="2.35"/><circle cx="466.5" cy="120.7" r="2.35"/><circle cx="477.0" cy="53.3" r="2.35"/><circle cx="477.0" cy="55.3" r="2.35"/><circle cx="477.0" cy="57.4" r="2.35"/><circle cx="477.0" cy="59.8" r="2.35"/><circle cx="477.0" cy="62.3" r="2.35"/><circle cx="477.0" cy="64.8" r="2.35"/><circle cx="477.0" cy="67.3" r="2.35"/><circle cx="477.0" cy="69.8" r="2.35"/><circle cx="477.0" cy="72.3" r="2.35"/><circle cx="477.0" cy="74.8" r="2.35"/><circle cx="477.0" cy="77.3" r="2.35"/><circle cx="477.0" cy="93.2" r="2.35"/><circle cx="477.0" cy="98.3" r="2.35"/><circle cx="477.0" cy="117.2" r="2.35"/><circle cx="477.0" cy="119.2" r="2.35"/><circle cx="476.8" cy="117.4" r="2.35"/><circle cx="492.8" cy="61.7" r="2.35"/><circle cx="492.8" cy="65.7" r="2.35"/><circle cx="492.8" cy="69.1" r="2.35"/><circle cx="492.8" cy="73.8" r="2.35"/><circle cx="493.0" cy="76.5" r="2.35"/><circle cx="493.1" cy="79.8" r="2.35"/><circle cx="492.9" cy="83.5" r="2.35"/><circle cx="492.9" cy="86.2" r="2.35"/><circle cx="492.7" cy="88.5" r="2.35"/><circle cx="492.4" cy="91.6" r="2.35"/><circle cx="492.9" cy="94.9" r="2.35"/><circle cx="492.8" cy="98.4" r="2.35"/><circle cx="493.0" cy="104.0" r="2.35"/><circle cx="493.0" cy="108.0" r="2.35"/><circle cx="493.0" cy="112.0" r="2.35"/><circle cx="493.0" cy="116.0" r="2.35"/><circle cx="496.2" cy="69.1" r="2.35"/><circle cx="497.2" cy="73.7" r="2.35"/><circle cx="497.6" cy="77.1" r="2.35"/><circle cx="497.1" cy="81.1" r="2.35"/><circle cx="497.2" cy="84.7" r="2.35"/><circle cx="497.3" cy="88.5" r="2.35"/><circle cx="497.6" cy="91.7" r="2.35"/><circle cx="497.6" cy="95.6" r="2.35"/><circle cx="497.2" cy="99.6" r="2.35"/><circle cx="500.3" cy="77.6" r="2.35"/><circle cx="500.2" cy="82.6" r="2.35"/><circle cx="500.8" cy="87.3" r="2.35"/><circle cx="500.4" cy="91.3" r="2.35"/><circle cx="500.1" cy="96.1" r="2.35"/><circle cx="497.0" cy="110.0" r="2.35"/><circle cx="497.0" cy="114.0" r="2.35"/><circle cx="497.0" cy="118.0" r="2.35"/><circle cx="497.0" cy="123.5" r="2.35"/><circle cx="497.0" cy="131.0" r="2.35"/><circle cx="497.0" cy="139.0" r="2.35"/><circle cx="501.0" cy="112.0" r="2.35"/><circle cx="501.0" cy="116.0" r="2.35"/><circle cx="513.3" cy="58.5" r="2.35"/><circle cx="513.4" cy="61.1" r="2.35"/><circle cx="513.8" cy="62.6" r="2.35"/><circle cx="514.0" cy="64.6" r="2.35"/><circle cx="513.5" cy="67.4" r="2.35"/><circle cx="513.2" cy="69.3" r="2.35"/><circle cx="513.8" cy="71.5" r="2.35"/><circle cx="513.6" cy="74.9" r="2.35"/><circle cx="513.1" cy="76.3" r="2.35"/><circle cx="513.6" cy="79.0" r="2.35"/><circle cx="513.7" cy="81.7" r="2.35"/><circle cx="513.1" cy="83.4" r="2.35"/><circle cx="513.3" cy="85.4" r="2.35"/><circle cx="516.0" cy="59.3" r="2.35"/><circle cx="515.1" cy="61.8" r="2.35"/><circle cx="516.0" cy="63.6" r="2.35"/><circle cx="516.0" cy="65.9" r="2.35"/><circle cx="515.4" cy="67.8" r="2.35"/><circle cx="515.4" cy="70.0" r="2.35"/><circle cx="515.5" cy="73.1" r="2.35"/><circle cx="515.9" cy="75.6" r="2.35"/><circle cx="516.0" cy="77.2" r="2.35"/><circle cx="515.8" cy="79.7" r="2.35"/><circle cx="516.0" cy="82.1" r="2.35"/><circle cx="515.4" cy="84.5" r="2.35"/><circle cx="517.6" cy="59.7" r="2.35"/><circle cx="517.3" cy="61.2" r="2.35"/><circle cx="517.6" cy="64.1" r="2.35"/><circle cx="518.4" cy="66.4" r="2.35"/><circle cx="517.7" cy="68.9" r="2.35"/><circle cx="517.7" cy="70.4" r="2.35"/><circle cx="518.4" cy="73.2" r="2.35"/><circle cx="518.1" cy="75.5" r="2.35"/><circle cx="518.5" cy="77.6" r="2.35"/><circle cx="518.3" cy="80.2" r="2.35"/><circle cx="518.3" cy="82.1" r="2.35"/><circle cx="518.2" cy="84.6" r="2.35"/><circle cx="519.8" cy="57.9" r="2.35"/><circle cx="519.6" cy="60.5" r="2.35"/><circle cx="519.7" cy="61.7" r="2.35"/><circle cx="519.6" cy="65.1" r="2.35"/><circle cx="519.9" cy="66.5" r="2.35"/><circle cx="519.5" cy="68.7" r="2.35"/><circle cx="520.3" cy="71.7" r="2.35"/><circle cx="520.3" cy="74.1" r="2.35"/><circle cx="519.6" cy="76.2" r="2.35"/><circle cx="519.9" cy="78.8" r="2.35"/><circle cx="520.5" cy="81.2" r="2.35"/><circle cx="519.6" cy="83.4" r="2.35"/><circle cx="520.6" cy="85.8" r="2.35"/><circle cx="521.9" cy="56.8" r="2.35"/><circle cx="521.7" cy="60.0" r="2.35"/><circle cx="522.7" cy="62.0" r="2.35"/><circle cx="522.7" cy="64.3" r="2.35"/><circle cx="522.0" cy="66.0" r="2.35"/><circle cx="521.8" cy="69.1" r="2.35"/><circle cx="521.9" cy="70.8" r="2.35"/><circle cx="522.2" cy="72.8" r="2.35"/><circle cx="522.0" cy="75.4" r="2.35"/><circle cx="522.6" cy="77.8" r="2.35"/><circle cx="522.1" cy="80.8" r="2.35"/><circle cx="522.3" cy="83.0" r="2.35"/><circle cx="522.4" cy="84.3" r="2.35"/><circle cx="524.4" cy="58.3" r="2.35"/><circle cx="524.3" cy="60.5" r="2.35"/><circle cx="524.5" cy="62.2" r="2.35"/><circle cx="524.9" cy="64.4" r="2.35"/><circle cx="524.9" cy="66.8" r="2.35"/><circle cx="523.9" cy="69.1" r="2.35"/><circle cx="524.8" cy="72.3" r="2.35"/><circle cx="523.9" cy="74.0" r="2.35"/><circle cx="524.5" cy="76.7" r="2.35"/><circle cx="524.1" cy="78.6" r="2.35"/><circle cx="524.3" cy="81.3" r="2.35"/><circle cx="524.2" cy="83.8" r="2.35"/><circle cx="524.2" cy="85.2" r="2.35"/><circle cx="526.7" cy="58.1" r="2.35"/><circle cx="526.9" cy="60.4" r="2.35"/><circle cx="527.0" cy="63.4" r="2.35"/><circle cx="527.0" cy="65.7" r="2.35"/><circle cx="526.5" cy="67.7" r="2.35"/><circle cx="526.6" cy="70.6" r="2.35"/><circle cx="526.2" cy="72.9" r="2.35"/><circle cx="526.1" cy="74.4" r="2.35"/><circle cx="526.4" cy="77.5" r="2.35"/><circle cx="526.7" cy="79.2" r="2.35"/><circle cx="527.2" cy="81.3" r="2.35"/><circle cx="526.7" cy="83.9" r="2.35"/><circle cx="531.7" cy="60.3" r="2.35"/><circle cx="531.6" cy="63.3" r="2.35"/><circle cx="531.4" cy="66.7" r="2.35"/><circle cx="531.8" cy="70.7" r="2.35"/><circle cx="531.7" cy="73.7" r="2.35"/><circle cx="531.5" cy="77.8" r="2.35"/><circle cx="531.6" cy="80.6" r="2.35"/><circle cx="531.5" cy="84.9" r="2.35"/><circle cx="531.3" cy="87.7" r="2.35"/><circle cx="517.2" cy="54.7" r="2.35"/><circle cx="516.6" cy="56.3" r="2.35"/><circle cx="519.8" cy="54.1" r="2.35"/><circle cx="519.6" cy="56.4" r="2.35"/><circle cx="523.6" cy="54.2" r="2.35"/><circle cx="522.5" cy="57.0" r="2.35"/><circle cx="525.9" cy="54.3" r="2.35"/><circle cx="526.4" cy="56.5" r="2.35"/><circle cx="514.6" cy="89.7" r="2.35"/><circle cx="514.5" cy="92.7" r="2.35"/><circle cx="517.9" cy="89.2" r="2.35"/><circle cx="518.8" cy="93.1" r="2.35"/><circle cx="522.2" cy="89.7" r="2.35"/><circle cx="521.6" cy="93.4" r="2.35"/><circle cx="525.8" cy="89.9" r="2.35"/><circle cx="525.4" cy="93.0" r="2.35"/><circle cx="529.6" cy="50.9" r="2.35"/><circle cx="529.2" cy="54.0" r="2.35"/><circle cx="529.7" cy="56.9" r="2.35"/><circle cx="529.6" cy="59.8" r="2.35"/><circle cx="529.5" cy="62.3" r="2.35"/><circle cx="529.4" cy="64.8" r="2.35"/><circle cx="529.5" cy="67.4" r="2.35"/><circle cx="529.3" cy="70.9" r="2.35"/><circle cx="529.6" cy="73.5" r="2.35"/><circle cx="541.3" cy="52.9" r="2.35"/><circle cx="541.5" cy="56.3" r="2.35"/><circle cx="541.4" cy="59.6" r="2.35"/><circle cx="541.8" cy="62.3" r="2.35"/><circle cx="541.6" cy="66.1" r="2.35"/><circle cx="541.4" cy="69.0" r="2.35"/><circle cx="541.9" cy="71.7" r="2.35"/><circle cx="541.5" cy="75.1" r="2.35"/><circle cx="541.7" cy="79.0" r="2.35"/><circle cx="541.5" cy="81.4" r="2.35"/><circle cx="541.6" cy="85.0" r="2.35"/><circle cx="549.7" cy="53.0" r="2.35"/><circle cx="549.6" cy="56.5" r="2.35"/><circle cx="549.5" cy="59.3" r="2.35"/><circle cx="549.9" cy="62.3" r="2.35"/><circle cx="549.6" cy="65.7" r="2.35"/><circle cx="549.7" cy="68.6" r="2.35"/><circle cx="549.9" cy="72.1" r="2.35"/><circle cx="548.3" cy="81.7" r="2.35"/><circle cx="548.3" cy="98.3" r="2.35"/><circle cx="562.0" cy="48.0" r="2.35"/><circle cx="562.0" cy="51.0" r="2.35"/><circle cx="562.0" cy="53.6" r="2.35"/><circle cx="562.0" cy="57.2" r="2.35"/><circle cx="562.0" cy="60.0" r="2.35"/><circle cx="562.0" cy="61.7" r="2.35"/><circle cx="562.0" cy="69.8" r="2.35"/><circle cx="562.0" cy="72.4" r="2.35"/><circle cx="562.0" cy="70.0" r="2.35"/><circle cx="562.0" cy="74.0" r="2.35"/><circle cx="562.0" cy="77.0" r="2.35"/><circle cx="562.0" cy="78.1" r="2.35"/><circle cx="562.0" cy="90.3" r="2.35"/><circle cx="580.7" cy="37.7" r="2.35"/><circle cx="580.7" cy="40.2" r="2.35"/><circle cx="580.7" cy="42.7" r="2.35"/><circle cx="580.7" cy="45.2" r="2.35"/><circle cx="580.7" cy="47.4" r="2.35"/><circle cx="580.7" cy="50.0" r="2.35"/><circle cx="580.7" cy="53.6" r="2.35"/><circle cx="580.7" cy="57.7" r="2.35"/><circle cx="580.7" cy="63.8" r="2.35"/><circle cx="580.7" cy="70.3" r="2.35"/><circle cx="580.7" cy="70.5" r="2.35"/><circle cx="580.7" cy="82.2" r="2.35"/></g><g><use href="#xm" x="516.3" y="63.6"/><use href="#xm" x="515.6" y="68.0"/><use href="#xm" x="517.6" y="74.8"/><use href="#xm" x="515.6" y="82.5"/><use href="#xm" x="517.2" y="88.7"/><use href="#xm" x="521.3" y="67.7"/><use href="#xm" x="523.2" y="71.7"/><use href="#xm" x="521.4" y="79.5"/><use href="#xm" x="522.5" y="85.4"/><use href="#xm" x="527.7" y="61.7"/><use href="#xm" x="528.3" y="70.4"/><use href="#xm" x="526.9" y="76.0"/><use href="#xm" x="528.7" y="81.3"/><use href="#xm" x="529.0" y="90.1"/></g><line x1="363.7" y1="120.7" x2="590.9" y2="57.2" stroke="#3050f0" stroke-width="1.2"/><text x="363.9" y="251.8" text-anchor="middle">0</text><text x="420.7" y="251.8" text-anchor="middle">0.2</text><text x="477.5" y="251.8" text-anchor="middle">0.4</text><text x="534.3" y="251.8" text-anchor="middle">0.6</text><text x="591.1" y="251.8" text-anchor="middle">0.8</text><text x="359.2" y="239.0" text-anchor="end">0</text><text x="359.2" y="181.9" text-anchor="end">0.2</text><text x="359.2" y="125.7" text-anchor="end">0.4</text><text x="359.2" y="69.3" text-anchor="end">0.6</text><text x="359.2" y="12.6" text-anchor="end">0.8</text><text x="379.09999999999997" y="33.8" font-weight="bold" font-size="16">b</text><text x="432.09999999999997" y="205.1" font-style="italic" font-size="13" fill="#13a013" stroke="#13a013" style="stroke-width:0.12px">y = 0.58x +0.21, R<tspan font-size="9.5" dy="-5.5">2</tspan><tspan dy="5.5"> = 0.33</tspan></text><text x="432.09999999999997" y="225.3" font-style="italic" font-size="13" fill="#1f2ff5" stroke="#1f2ff5" style="stroke-width:0.12px">y = 0.28x +0.40, R<tspan font-size="9.5" dy="-5.5">2</tspan><tspan dy="5.5"> = 0.33</tspan></text><text x="410.09999999999997" y="269.8" textLength="130.8" lengthAdjust="spacing">algal F<tspan font-size="8.5" dy="6.3" dx="-0.2">v</tspan><tspan dy="-6.3" dx="-0.9">/F</tspan><tspan font-size="8.5" dy="6.3" dx="-0.8">m</tspan><tspan dy="-6.3" dx="0.2">(470,683) or</tspan></text><text x="388.2" y="287.3" textLength="173.6" lengthAdjust="spacing">cyanobacterial F<tspan font-size="8.5" dy="6.3" dx="-0.2">v</tspan><tspan dy="-6.3" dx="-0.9">/F</tspan><tspan font-size="8.5" dy="6.3" dx="-0.8">m</tspan><tspan dy="-6.3" dx="0.2">(590,683)</tspan></text><text transform="translate(325.0,210.4) rotate(-90)" textLength="177.4" lengthAdjust="spacing">Community F<tspan font-size="8.5" dy="5.5" dx="0.2">v</tspan><tspan dy="-5.5" dx="-4.3">/F</tspan><tspan font-size="8.5" dy="5.5">m</tspan><tspan dy="-5.5" dx="-2.2">(535-585,683)</tspan></text>
<rect x="51.8" y="7.5" width="158.6" height="28.4" fill="#fff" stroke="#111" stroke-width="1.2"/><circle cx="61.6" cy="22" r="2.3" fill="none" stroke="#2238fa" stroke-width="0.68"/><use href="#xm" x="163.2" y="22.1"/><text x="68.6" y="27.1">cyanobacteria</text><text x="171.2" y="27.1">algae</text><path d="M51.8 7.5H279V234.2H51.8Z" fill="none" stroke="#111" stroke-width="1.2"/><path d="M110.0 234.2v-3.2M110.0 7.5v3.2M51.8 177.5h3.5M279 177.5h-3.5M166.0 234.2v-3.2M166.0 7.5v3.2M51.8 121.5h3.5M279 121.5h-3.5M222.5 234.2v-3.2M222.5 7.5v3.2M51.8 65.5h3.5M279 65.5h-3.5M53.8 234.2v-3.2M53.8 7.5v3.2M51.8 9.3h3.5M279 9.3h-3.5" stroke="#111" stroke-width="1.1"/><path d="M363.7 7.5H590.9V234.2H363.7Z" fill="none" stroke="#111" stroke-width="1.2"/><path d="M422.0 234.2v-3.2M422.0 7.5v3.2M363.7 177.5h3.5M590.9 177.5h-3.5M477.8 234.2v-3.2M477.8 7.5v3.2M363.7 121.5h3.5M590.9 121.5h-3.5M534.3 234.2v-3.2M534.3 7.5v3.2M363.7 65.5h3.5M590.9 65.5h-3.5M365.9 234.2v-3.2M365.9 7.5v3.2M363.7 9.3h3.5M590.9 9.3h-3.5" stroke="#111" stroke-width="1.1"/>
</g></g>
</svg>
</body></html>
